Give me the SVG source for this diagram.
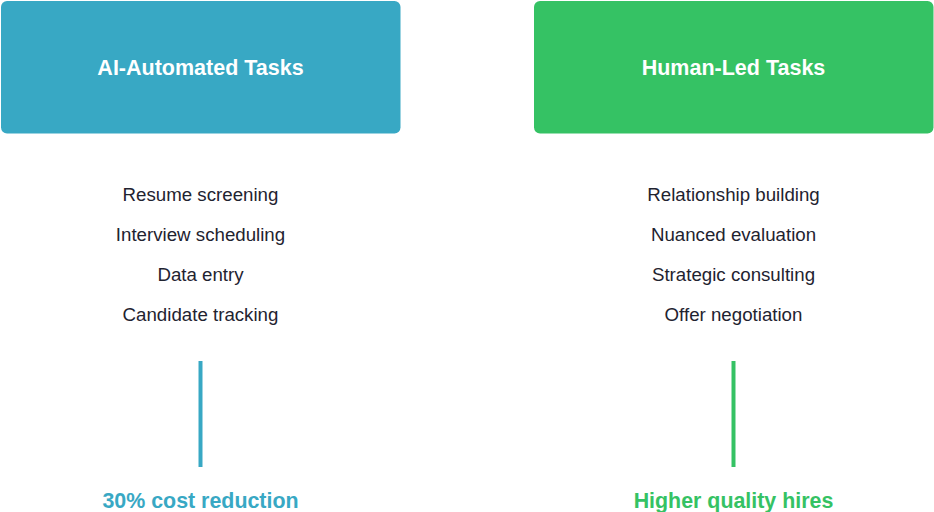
<svg xmlns="http://www.w3.org/2000/svg" width="934" height="512" viewBox="0 0 934 512">
<style>
.title{font-family:"Liberation Sans",Arial,sans-serif;font-size:21.5px;font-weight:bold;fill:#ffffff;text-anchor:middle}
.item{font-family:"Liberation Sans",Arial,sans-serif;font-size:18.7px;fill:#1f2330;text-anchor:middle}
.res{font-family:"Liberation Sans",Arial,sans-serif;font-size:21.4px;font-weight:bold;text-anchor:middle}
</style>
<rect width="934" height="512" fill="#ffffff"/>
<g id="ai-node">
<rect x="1" y="1" width="399.5" height="132.5" rx="6" fill="#38a8c4"/>
<text class="title" x="200.5" y="74.5">AI-Automated Tasks</text>
</g>
<g id="human-node">
<rect x="534" y="1" width="399.5" height="132.5" rx="6" fill="#35c264"/>
<text class="title" x="733.5" y="74.5">Human-Led Tasks</text>
</g>
<g id="ai-list">
<text class="item" x="200.5" y="201">Resume screening</text>
<text class="item" x="200.5" y="241">Interview scheduling</text>
<text class="item" x="200.5" y="281">Data entry</text>
<text class="item" x="200.5" y="321">Candidate tracking</text>
</g>
<g id="human-list">
<text class="item" x="733.5" y="201">Relationship building</text>
<text class="item" x="733.5" y="241">Nuanced evaluation</text>
<text class="item" x="733.5" y="281">Strategic consulting</text>
<text class="item" x="733.5" y="321">Offer negotiation</text>
</g>
<g id="connectors">
<line x1="200.5" y1="361" x2="200.5" y2="467" stroke="#38a8c4" stroke-width="4"/>
<line x1="733.5" y1="361" x2="733.5" y2="467" stroke="#35c264" stroke-width="4"/>
</g>
<g id="ai-result">
<text class="res" x="200.5" y="507.5" fill="#38a8c4">30% cost reduction</text>
</g>
<g id="human-result">
<text class="res" x="733.5" y="507.5" fill="#35c264">Higher quality hires</text>
</g>
</svg>
